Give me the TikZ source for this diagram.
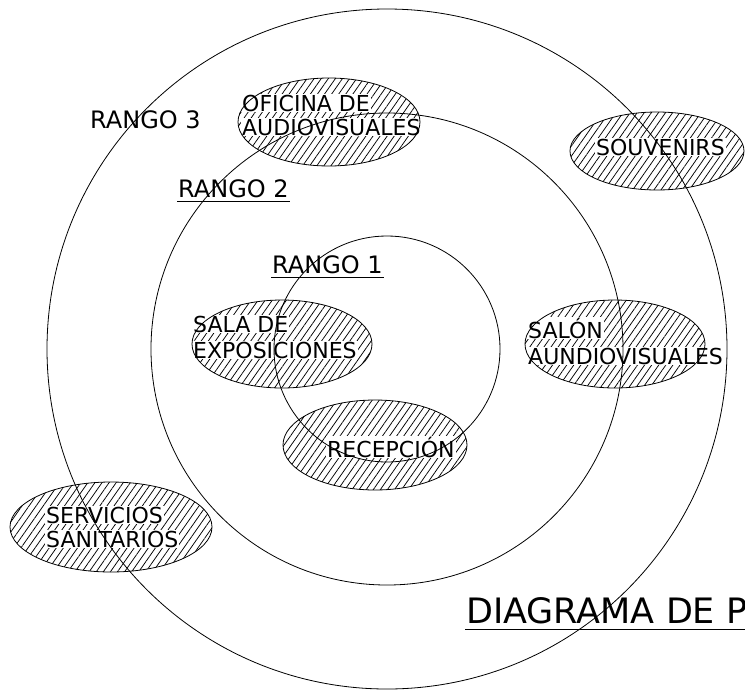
\documentclass[tikz,border=0pt]{standalone}
\usepackage{fontspec}
\setmainfont{DejaVu Sans}
\usetikzlibrary{patterns.meta}

\tikzset{
  lbl/.style={anchor=base west, fill=white, inner sep=1pt, font=\fontsize{22}{26}\selectfont},
  rango/.style={anchor=base west, inner sep=1pt, font=\fontsize{24}{28}\selectfont},
  hatch/.style={pattern={Lines[angle=55,distance=5.8pt,line width=0.75pt]}},
  ring/.style={line width=0.8pt}
}

\begin{document}
\begin{tikzpicture}[x=1pt,y=-1pt]
            \useasboundingbox (0,0) rectangle (745,689);

            \coordinate (c) at (387,349);
            \coordinate (ofi) at (329,122);
            \coordinate (sou) at (657,151);
            \coordinate (sal) at (615,344);
            \coordinate (exp) at (282,344);
            \coordinate (rec) at (375,445);
            \coordinate (ser) at (111,527);

            % hatched areas
            \fill[hatch] (ofi) ellipse (91 and 44);
            \fill[hatch] (sou) ellipse (87 and 39);
            \fill[hatch] (sal) ellipse (90 and 44);
            \fill[hatch] (exp) ellipse (90 and 44);
            \fill[hatch] (rec) ellipse (92 and 45);
            \fill[hatch] (ser) ellipse (101 and 45);

            \node[lbl] (ofiA) at (241,111) {OFICINA DE};
            \node[lbl] (ofiB) at (241,135) {AUDIOVISUALES};
            \node[lbl] (souA) at (595,155) {SOUVENIRS};
            \node[lbl] (salA) at (527,338) {SALÓN};
            \node[lbl] (salB) at (527,364) {AUNDIOVISUALES};
            \node[lbl] (expA) at (192,332) {SALA DE};
            \node[lbl] (expB) at (192,358) {EXPOSICIONES};
            \node[lbl] (recA) at (326,457) {RECEPCIÓN};
            \node[lbl] (serA) at (45,523) {SERVICIOS};
            \node[lbl] (serB) at (45,547) {SANITARIOS};

            \draw[ring] (ofi) ellipse (91 and 44);
            \draw[ring] (sou) ellipse (87 and 39);
            \draw[ring] (sal) ellipse (90 and 44);
            \draw[ring] (exp) ellipse (90 and 44);
            \draw[ring] (rec) ellipse (92 and 45);
            \draw[ring] (ser) ellipse (101 and 45);

            % the three ranges
            \draw[ring] (c) circle (340);
            \draw[ring] (c) circle (236);
            \draw[ring] (c) circle (113);

            \node[rango] (r3) at (89,128) {RANGO 3};
            \node[rango] (r2) at (177,197) {RANGO 2};
            \node[rango] (r1) at (271,273) {RANGO 1};
            \draw[ring] ([yshift=-4pt]r2.base west) -- ([yshift=-4pt]r2.base east);
            \draw[ring] ([yshift=-4pt]r1.base west) -- ([yshift=-4pt]r1.base east);

            \node[anchor=base west, inner sep=1pt, font=\fontsize{35}{40}\selectfont] (tit) at (465,623) {DIAGRAMA DE P};
            \coordinate (titEnd) at (745,629);
            \draw[ring] ([yshift=-6pt]tit.base west) -- (titEnd);
        \end{tikzpicture}
\end{document}
